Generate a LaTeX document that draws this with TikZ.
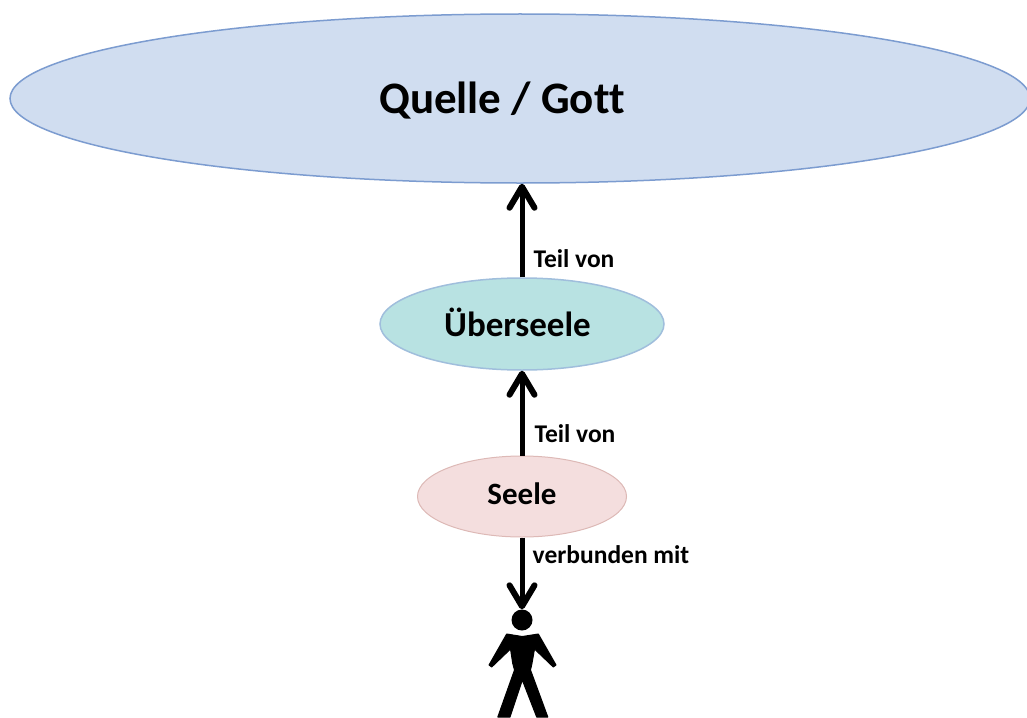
\documentclass[tikz,border=0pt]{standalone}
\usepackage{fontspec}
\setmainfont{Carlito}[Ligatures=NoCommon]
\usetikzlibrary{arrows.meta}
\usetikzlibrary{shapes.geometric}
\definecolor{quellefill}{HTML}{D0DDF0}
\definecolor{quelleline}{HTML}{7C9CD0}
\definecolor{oversoulfill}{HTML}{B8E2E2}
\definecolor{oversoulline}{HTML}{A0BEDC}
\definecolor{soulfill}{HTML}{F4DEDE}
\definecolor{soulline}{HTML}{DDB9B6}
\tikzset{
    blob/.style={ellipse,draw,line width=1.5pt,inner sep=0pt,font=\bfseries},
    lab/.style={font=\bfseries\fontsize{25.5}{26}\selectfont,inner sep=0pt},
    link/.style={line width=5pt,-{Straight Barb[length=21pt,width=25pt,round,line width=6pt]}}
}
\begin{document}
\begin{tikzpicture}[x=1pt,y=-1pt]
    \useasboundingbox (0,0) rectangle (1027,717);
    \node[blob,draw=quelleline,fill=quellefill,minimum width=1020pt,minimum height=169pt] (quelle) at (520,98.5) {};
    \node[font=\bfseries\fontsize{45}{45}\selectfont,inner sep=0pt] (quelletext) at (502,101) {Quelle / Gott};
    \node[blob,draw=oversoulline,fill=oversoulfill,minimum width=284pt,minimum height=92pt,font=\bfseries\fontsize{35}{35}\selectfont] (oversoul) at (522,324) {\hspace{-9pt}\raisebox{3pt}{Überseele}};
    \node[blob,draw=soulline,fill=soulfill,line width=1pt,minimum width=209pt,minimum height=81pt,font=\bfseries\fontsize{31}{31}\selectfont] (soul) at (522,496.5) {\raisebox{6pt}{Seele}};
    \node[circle,fill=black,minimum size=21pt,inner sep=0pt] (head) at (522,620) {};

    \draw[link] (oversoul.north) -- (quelle.south -| oversoul.north);
    \draw[link] (soul.north) -- (oversoul.south);
    \draw[link] (soul.south) -- (head.north);

    \node[lab] (teil1) at (574,259) {Teil von};
    \node[lab] (teil2) at (575,434) {Teil von};
    \node[lab] (verbunden) at (611,555) {verbunden mit};

    % person below the head
    \filldraw[black,line width=1pt,line join=round] (506.7,634) -- (522.3,636.5) -- (538.3,634)
        -- (556,665) -- (553.3,667) -- (534.5,649) -- (532,663.3) -- (530.5,670)
        -- (547.8,717) -- (536.7,717) -- (522.3,680) -- (510,717) -- (497.8,717) -- (514.5,670)
        -- (512.7,663.3) -- (510.5,649) -- (491.7,667) -- (489,665) -- cycle;
\end{tikzpicture}
\end{document}
